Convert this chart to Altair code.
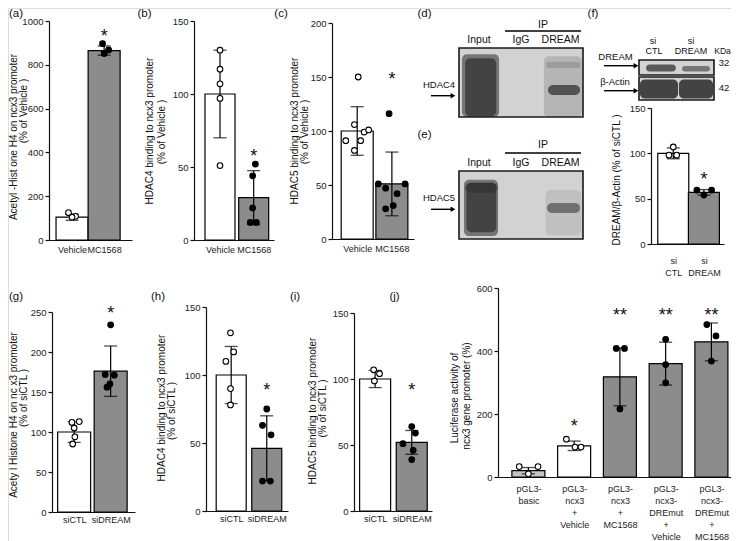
import altair as alt
import pandas as pd

FONT = "Liberation Sans"
W, H = 723, 533
MX, MY = 8, 8  # page px -> chart px offsets

GRAY = "#8c8c8c"
LIGHT = "#c4c4c4"

# ======================= DATA =======================
# (a) Acetyl-Histone H4 on ncx3 promoter (% of Vehicle)
a_cats = ["Vehicle", "MC1568"]
a_mean = [104, 865]
a_sd = [14, 21]
a_pts = [[125, 108, 104], [897, 868, 852]]
a_jit = [[-0.11, 0.11, 0.0], [-0.05, 0.14, 0.0]]
a_star = ["", "*"]
a_star_at = [0, 950]

# (b) HDAC4 binding to ncx3 promoter (% of Vehicle)
b_cats = ["Vehicle", "MC1568"]
b_mean = [100, 29]
b_sd = [30, 18.5]
b_pts = [[130, 117, 107, 97, 51], [52, 44, 22, 12, 12]]
b_jit = [[0, 0, 0, 0, 0], [0.05, -0.03, -0.03, -0.1, 0.08]]
b_star = ["", "*"]
b_star_at = [0, 60]

# (c) HDAC5 binding to ncx3 promoter (% of Vehicle)
c_cats = ["Vehicle", "MC1568"]
c_mean = [100, 51]
c_sd = [22.5, 29.5]
c_pts = [[150, 106, 91, 91, 82, 99, 101], [116, 51, 51, 47, 42, 31, 28]]
c_jit = [[0.03, -0.08, -0.33, 0.1, -0.08, 0.2, 0.33],
         [-0.08, -0.39, 0.38, -0.18, 0.15, 0.04, -0.18]]
c_star = ["", "*"]
c_star_at = [0, 152]

# (f) DREAM / beta-Actin (% of siCTL)
f_cats = ["si|CTL", "si|DREAM"]
f_mean = [100, 57]
f_sd = [6, 3]
f_pts = [[107, 98, 98], [59.5, 59.5, 54]]
f_jit = [[0, -0.14, 0.11], [-0.23, 0.25, 0]]
f_star = ["", "*"]
f_star_at = [0, 76]

# (g) Acetyl Histone H4 on ncx3 promoter (% of siCTL)
g_cats = ["siCTL", "siDREAM"]
g_mean = [100, 176]
g_sd = [13, 31.5]
g_pts = [[113, 112, 105, 94, 85], [234, 172, 171, 160, 156]]
g_jit = [[0.14, -0.06, 0.0, 0.02, -0.04], [0.0, -0.15, 0.1, -0.02, -0.1]]
g_star = ["", "*"]
g_star_at = [0, 254]

# (h) HDAC4 binding to ncx3 promoter (% of siCTL)
h_cats = ["siCTL", "siDREAM"]
h_mean = [100, 46]
h_sd = [21, 24]
h_pts = [[131, 117, 110, 90, 78], [75, 63, 56, 22, 22]]
h_jit = [[-0.02, 0.07, -0.15, -0.02, -0.02], [0, -0.12, 0.12, -0.12, 0.1]]
h_star = ["", "*"]
h_star_at = [0, 92]

# (i) HDAC5 binding to ncx3 promoter (% of siCTL)
i_cats = ["siCTL", "siDREAM"]
i_mean = [100, 52]
i_sd = [6.5, 9]
i_pts = [[107, 104, 98.5], [64, 59, 51, 46, 39]]
i_jit = [[-0.04, 0.12, -0.02], [0, 0.1, -0.24, 0.04, 0]]
i_star = ["", "*"]
i_star_at = [0, 95]

# (j) Luciferase activity of ncx3 gene promoter (%)
j_cats = ["pGL3-|basic", "pGL3-|ncx3|+|Vehicle", "pGL3-|ncx3|+|MC1568",
          "pGL3-|ncx3-|DREmut|+|Vehicle", "pGL3-|ncx3-|DREmut|+|MC1568"]
j_mean = [20, 99, 318, 360, 429]
j_sd = [10, 15, 92, 68, 60]
j_pts = [[33, 33, 10], [120, 95, 95], [408, 408, 216], [437, 357, 299], [484, 448, 368]]
j_jit = [[-0.2, 0.21, 0], [-0.17, 0.02, 0.15], [-0.08, 0.1, 0], [0, 0, 0], [-0.1, 0.1, 0]]
j_star = ["", "*", "**", "**", "**"]
j_star_at = [0, 175, 527, 527, 527]

# ======================= LAYOUT (page px) =======================
# (axis x start, axis x end, first bar centre, bar step, y top, y bottom, bar width, label pad, line height)
GEO_A = (49, 132, 69.5, 36.5, 21, 240, 32, 5, 11)
GEO_B = (194, 274, 218, 38.5, 21, 240, 30, 5, 11)
GEO_C = (332, 414, 355, 39.5, 23, 239, 32, 5, 11)
GEO_F = (651, 724, 671, 35.5, 108, 244, 31, 12, 12)
GEO_G = (52, 135, 71.5, 41.5, 312, 512, 33, 3, 11)
GEO_H = (206, 288, 229, 40.5, 307, 511, 30, 3, 11)
GEO_I = (354, 432, 372.5, 42, 313, 511, 31, 3, 11)
GEO_J = (498, 737, 524.5, 47.75, 288, 477, 33, 7, 12)

AXC = dict(grid=False, title=None, domainColor="#111", domainWidth=1.2, tickColor="#111",
           tickWidth=1.2, labelColor="#222", labelFont=FONT,
           labelFlush=False, labelOverlap=False)


def bar_panel(cats, mean, sd, pts, jit, stars, star_at, bar_fill, pt_fill, ymax, ystep, geo):
    x0, x1, c0, step, ytop, ybot, bw, lpad, lh = geo
    n = len(cats)
    xsc = alt.Scale(domain=[(x0 - c0) / step, (x1 - c0) / step], range=[x0 - MX, x1 - MX],
                    nice=False, zero=False)
    ysc = alt.Scale(domain=[0, ymax], range=[ybot - MY, ytop - MY], nice=False, zero=False)
    lab = "[" + ",".join("'" + c + "'" for c in cats) + "]"
    xax = alt.Axis(orient="bottom", offset=(ybot - MY) - H, values=list(range(n)),
                   labelExpr="split(" + lab + "[datum.value], '|')", ticks=False, tickSize=0,
                   labelPadding=lpad, labelAngle=0, labelBaseline="top", labelAlign="center",
                   labelLineHeight=lh, labelBound=False, labelFontSize=9, **AXC)
    yax = alt.Axis(orient="left", offset=-(x0 - MX), values=list(range(0, ymax + 1, ystep)),
                   format="d", tickSize=4, labelPadding=2, labelFontSize=9.5, **AXC)

    bdf = pd.DataFrame({
        "idx": list(range(n)),
        "mean": mean,
        "lo": [m - s for m, s in zip(mean, sd)],
        "hi": [m + s for m, s in zip(mean, sd)],
        "fill": bar_fill,
        "star": stars,
        "star_at": star_at,
    })
    caps = pd.DataFrame({
        "idx": list(range(n)) * 2,
        "v": list(bdf["lo"]) + list(bdf["hi"]),
    })
    rows = []
    for k in range(n):
        for v, j in zip(pts[k], jit[k]):
            rows.append({"xj": k + j, "v": v, "pf": pt_fill[k]})
    pdf = pd.DataFrame(rows)

    X = lambda f: alt.X(f, scale=xsc, axis=xax)
    Y = lambda f: alt.Y(f, scale=ysc, axis=yax, stack=None)

    bars = alt.Chart(bdf).mark_bar(size=bw, orient="vertical", stroke="black", strokeWidth=1.2).encode(
        x=X("idx:Q"), y=Y("mean:Q"), fill=alt.Fill("fill:N", scale=None))
    err = alt.Chart(bdf).mark_rule(color="black", strokeWidth=1.2).encode(
        x=X("idx:Q"), y=Y("lo:Q"), y2="hi:Q")
    cap = alt.Chart(caps).mark_tick(orient="horizontal", size=13, thickness=1.3, color="black").encode(
        x=X("idx:Q"), y=Y("v:Q"))
    dots = alt.Chart(pdf).mark_circle(size=32, stroke="black", strokeWidth=1.1, opacity=1).encode(
        x=X("xj:Q"), y=Y("v:Q"), fill=alt.Fill("pf:N", scale=None))
    st = alt.Chart(bdf).mark_text(font=FONT, fontSize=18, dy=5, color="#111", baseline="middle").encode(
        x=X("idx:Q"), y=Y("star_at:Q"), text="star:N")
    return alt.layer(bars, err, cap, dots, st)


OPEN2 = ["white", "black"]
FILL2 = ["white", GRAY]

pa = bar_panel(a_cats, a_mean, a_sd, a_pts, a_jit, a_star, a_star_at, FILL2, OPEN2, 1000, 200, GEO_A)
pb = bar_panel(b_cats, b_mean, b_sd, b_pts, b_jit, b_star, b_star_at, FILL2, OPEN2, 150, 50, GEO_B)
pc = bar_panel(c_cats, c_mean, c_sd, c_pts, c_jit, c_star, c_star_at, FILL2, OPEN2, 200, 50, GEO_C)
pf = bar_panel(f_cats, f_mean, f_sd, f_pts, f_jit, f_star, f_star_at, FILL2, OPEN2, 150, 50, GEO_F)
pg = bar_panel(g_cats, g_mean, g_sd, g_pts, g_jit, g_star, g_star_at, FILL2, OPEN2, 250, 50, GEO_G)
ph = bar_panel(h_cats, h_mean, h_sd, h_pts, h_jit, h_star, h_star_at, FILL2, OPEN2, 150, 50, GEO_H)
pi = bar_panel(i_cats, i_mean, i_sd, i_pts, i_jit, i_star, i_star_at, FILL2, OPEN2, 150, 50, GEO_I)
pj = bar_panel(j_cats, j_mean, j_sd, j_pts, j_jit, j_star, j_star_at,
               [LIGHT, "white", GRAY, GRAY, GRAY], ["white", "white", "black", "black", "black"],
               600, 200, GEO_J)

# ======================= BLOTS =======================
# bands: (x0, x1, y0, y1, colour, opacity) in relative blot coordinates
d_bands = [
    (0.024, 0.323, 0.09, 1.0, "#555555", 0.75),
    (0.05, 0.30, 0.15, 0.99, "#333333", 0.75),
    (0.685, 0.99, 0.12, 1.0, "#8a8a8a", 0.4),
    (0.70, 0.98, 0.2, 0.29, "#777777", 0.4),
    (0.718, 0.976, 0.536, 0.681, "#3a3a3a", 0.8),
]
e_bands = [
    (0.04, 0.315, 0.13, 0.956, "#555555", 0.75),
    (0.06, 0.30, 0.17, 0.90, "#333333", 0.75),
    (0.05, 0.31, 0.176, 0.32, "#2a2a2a", 0.5),
    (0.70, 0.985, 0.28, 0.95, "#999999", 0.3),
    (0.71, 0.976, 0.47, 0.618, "#555555", 0.75),
]
fd_bands = [
    (0.093, 0.493, 0.3, 0.767, "#444444", 0.85),
    (0.573, 0.947, 0.4, 0.767, "#555555", 0.75),
]
fa_bands = [
    (0.013, 0.52, 0.109, 0.935, "#333333", 0.9),
    (0.533, 0.987, 0.109, 0.935, "#333333", 0.9),
]


def blot(bx0, bx1, by0, by1, bands):
    xs = alt.Scale(domain=[0, 1], range=[bx0 - MX, bx1 - MX], nice=False, zero=False)
    ys = alt.Scale(domain=[0, 1], range=[by0 - MY, by1 - MY], nice=False, zero=False)
    box = pd.DataFrame({"x0": [0], "x1": [1], "y0": [0], "y1": [1]})
    df = pd.DataFrame(bands, columns=["x0", "x1", "y0", "y1", "c", "o"])
    enc = dict(x=alt.X("x0:Q", scale=xs, axis=None), x2="x1:Q",
               y=alt.Y("y0:Q", scale=ys, axis=None), y2="y1:Q")
    bg = alt.Chart(box).mark_rect(fill="#d2d2d2").encode(**enc)
    bd = alt.Chart(df).mark_rect(cornerRadius=5).encode(
        fill=alt.Fill("c:N", scale=None), opacity=alt.Opacity("o:Q", scale=None), **enc)
    ol = alt.Chart(box).mark_rect(fill=None, stroke="#1a1a1a", strokeWidth=1.6).encode(**enc)
    return alt.layer(bg, bd, ol)


bl_d = blot(459, 583, 48, 117, d_bands)
bl_e = blot(459, 583, 171, 239, e_bands)
bl_fd = blot(639, 714, 60, 75, fd_bands)
bl_fa = blot(639, 714, 77, 100, fa_bands)

# ======================= TEXT ANNOTATIONS (page px) =======================
texts = [
    ("(a)", 16, 14, 11.5, 0), ("(b)", 144.5, 14, 11.5, 0), ("(c)", 281, 14, 11.5, 0),
    ("(d)", 424.5, 14, 11.5, 0), ("(e)", 424.5, 135, 11.5, 0), ("(f)", 593, 14, 11.5, 0),
    ("(g)", 16, 297, 11.5, 0), ("(h)", 158, 297, 11.5, 0), ("(i)", 295, 297, 11.5, 0),
    ("(j)", 394.5, 297, 11.5, 0),
    # y titles
    ("Acetyl -Hist one H4 on ncx3 promoter", 13.5, 137, 10, 270),
    ("(% of  Vehicle )", 23.5, 111, 10, 270),
    ("HDAC4 binding  to ncx3 promoter", 150, 131, 10, 270),
    ("(% of  Vehicle )", 161.7, 132, 10, 270),
    ("HDAC5 binding  to ncx3 promoter", 295, 131, 10, 270),
    ("(% of  Vehicle )", 305, 132, 10, 270),
    ("DREAM/β-Actin  (% of siCTL )", 617, 180, 10, 270),
    ("Acety l Histone  H4 on nc x3 promoter", 13.5, 415, 10, 270),
    ("(% of  siCTL )", 24, 398, 10, 270),
    ("HDAC4 binding  to ncx3 promoter", 161.7, 408, 10, 270),
    ("(% of  siCTL )", 171.7, 411, 10, 270),
    ("HDAC5 binding  to ncx3 promoter", 313, 411, 10, 270),
    ("(% of  siCTL )", 323, 408.5, 10, 270),
    ("Luciferase  activity  of", 455, 398, 10, 270),
    ("ncx3  gene promoter (%)", 467, 396, 10, 270),
    # blot labels (d)/(e)
    ("IP", 543, 25, 10.5, 0), ("Input", 479, 40, 10.5, 0), ("IgG", 521, 40, 10.5, 0),
    ("DREAM", 560.5, 40, 10.5, 0), ("HDAC4", 439, 85, 9.5, 0),
    ("IP", 543, 145, 10.5, 0), ("Input", 479, 163, 10.5, 0), ("IgG", 521, 163, 10.5, 0),
    ("DREAM", 560.5, 163, 10.5, 0), ("HDAC5", 439, 198, 9.5, 0),
    # blot labels (f)
    ("si", 653, 41, 9, 0), ("CTL", 654, 50.5, 9, 0),
    ("si", 691, 41, 9, 0), ("DREAM", 691, 50.5, 9, 0),
    ("KDa", 722.5, 50.5, 8.5, 0), ("DREAM", 615.5, 56.7, 9.5, 0),
    ("β-Actin", 615, 81.7, 9.5, 0), ("32", 724, 63.3, 9.5, 0), ("42", 724, 88.3, 9.5, 0),
]
ann = pd.DataFrame(texts, columns=["t", "x", "y", "fs", "ang"])
ann["x"] = ann["x"] - MX
ann["y"] = ann["y"] - MY
txt = alt.Chart(ann).mark_text(font=FONT, baseline="middle", align="center", color="#111").encode(
    x=alt.X("x:Q", scale=None, axis=None), y=alt.Y("y:Q", scale=None, axis=None),
    text="t:N", size=alt.Size("fs:Q", scale=None), angle=alt.Angle("ang:Q", scale=None))

seg = pd.DataFrame({
    "x": [505, 505, 431, 431, 604, 604],
    "x2": [581, 581, 451, 451, 634, 634],
    "y": [31, 153, 95.7, 209.3, 65.7, 90.7],
})
seg["x"] -= MX
seg["x2"] -= MX
seg["y"] -= MY
rules = alt.Chart(seg).mark_rule(color="black", strokeWidth=1.4).encode(
    x=alt.X("x:Q", scale=None, axis=None), x2="x2:Q", y=alt.Y("y:Q", scale=None, axis=None))

heads = pd.DataFrame({"x": [453, 453, 636, 636], "y": [95.7, 209.3, 65.7, 90.7]})
heads["x"] -= MX
heads["y"] -= MY
arrows = alt.Chart(heads).mark_point(shape="triangle-right", filled=True, size=30, color="black",
                                     opacity=1).encode(
    x=alt.X("x:Q", scale=None, axis=None), y=alt.Y("y:Q", scale=None, axis=None))

chart = alt.layer(pa, pb, pc, pf, pg, ph, pi, pj, bl_d, bl_e, bl_fd, bl_fa, txt, rules, arrows).resolve_scale(
    x="independent", y="independent"
).properties(
    width=W, height=H, padding=0, autosize=alt.AutoSizeParams(type="none")
).configure_view(stroke=None).configure(font=FONT, background="white")

chart.save("out.html", embed_options={"renderer": "svg", "actions": False})
